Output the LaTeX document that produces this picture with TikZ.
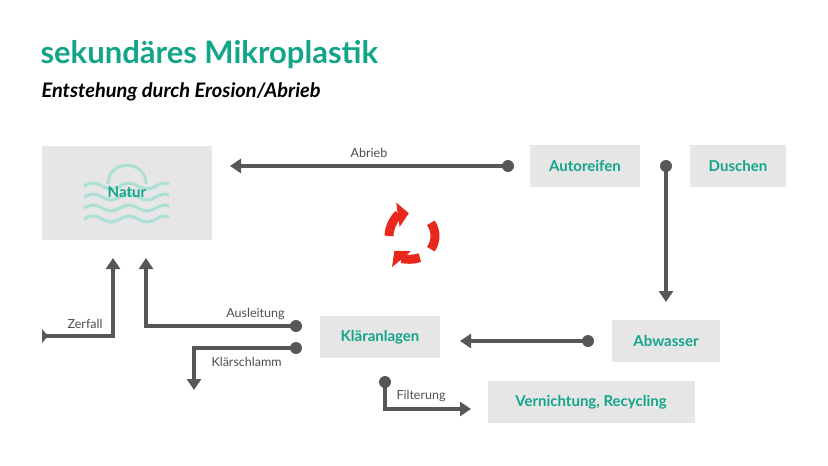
\documentclass[tikz,border=0pt]{standalone}
\usepackage{fontspec}
\setmainfont{Lato}
\usetikzlibrary{arrows.meta, positioning}
\definecolor{teal}{HTML}{12A58A}
\definecolor{boxgray}{HTML}{E6E6E6}
\definecolor{linegray}{HTML}{575757}
\definecolor{cyclered}{HTML}{E8281C}
\tikzset{
  box/.style={fill=boxgray, text=teal, font=\bfseries\fontsize{15}{17}\selectfont, inner sep=0pt},
  flow/.style={draw=linegray, line width=3.5pt, -{Triangle[length=11pt,width=14pt]}},
  dotstart/.style={fill=linegray, circle, inner sep=0pt, minimum size=12pt},
  lbl/.style={font=\fontsize{12.5}{14}\selectfont, text=linegray!90!black}
}
\begin{document}
\begin{tikzpicture}[x=1pt,y=-1pt]
   \useasboundingbox (0,0) rectangle (828,466);
   % titles
   \node[anchor=west, text=teal, font=\bfseries\fontsize{31}{35}\selectfont] (title) at (37,55) {sekundäres Mikroplastik};
   \node[anchor=west, font=\bfseries\itshape\fontsize{20}{23}\selectfont] (sub) at (38,92) {Entstehung durch Erosion/Abrieb};
   % boxes
   \node[box, minimum width=170pt, minimum height=94pt] (natur) at (127,193) {};
   \begin{scope}[draw=teal!35, line width=3pt]
     \draw (108,184) .. controls (108,159) and (146,159) .. (146,184);
     \foreach \y in {186,197,208,219}
       \draw (84,\y) sin (93,\y-3) cos (102,\y) sin (111,\y+3) cos (120,\y) sin (129,\y-3) cos (138,\y) sin (147,\y+3) cos (156,\y) sin (165,\y-3) cos (169,\y-2);
   \end{scope}
   \node[text=teal, font=\bfseries\fontsize{15}{17}\selectfont] (naturlbl) at (127,192) {Natur};
   \node[box, minimum width=110pt, minimum height=42pt] (autoreifen) at (585,166) {Autoreifen};
   \node[box, minimum width=96pt, minimum height=42pt] (duschen) at (738,166) {Duschen};
   \node[box, minimum width=108pt, minimum height=42pt] (abwasser) at (666,341) {Abwasser};
   \node[box, minimum width=120pt, minimum height=42pt] (klaer) at (380,337) {Kläranlagen};
   \node[box, minimum width=207pt, minimum height=42pt] (vernichtung) at (591,402) {Vernichtung, Recycling};
   % connector ends
   \node[dotstart] (d1) at (508,166) {};
   \node[dotstart] (d2) at (666,166) {};
   \node[dotstart] (d3) at (588,341) {};
   \node[dotstart] (d4) at (296,326) {};
   \node[dotstart] (d5) at (296,348) {};
   \node[dotstart] (d6) at (385,382) {};
   \coordinate (abriebend) at (230,166);
   \coordinate (duschend) at (666,302);
   \coordinate (abwend) at (460,341);
   \coordinate (auslend) at (146,258);
   \coordinate (zerfallstart) at (44,336);
   \coordinate (zerfallend) at (113,258);
   \coordinate (schlammend) at (194,390);
   \coordinate (filterend) at (471,409);
   % connectors
   \draw[flow] (d1.center) -- node[lbl, above=3pt] {Abrieb} (abriebend);
   \draw[flow] (d2.center) -- (duschend);
   \draw[flow] (d3.center) -- (abwend);
   \draw[flow] (d4.center) -- node[lbl, pos=0.27, above=1pt] {Ausleitung} (146,326) -- (auslend);
   \draw[flow] (zerfallstart) -- (113,336) -- (zerfallend);
   \fill[linegray] (42,329) -- (48,336) -- (42,343) -- cycle;
   \node[lbl, anchor=east] (zerfall) at (106,324) {Zerfall};
   \draw[flow] (d5.center) -- (194,348) -- (schlammend);
   \node[lbl, anchor=west] (schlamm) at (208,362) {Klärschlamm};
   \draw[flow] (d6.center) -- (385,409) -- (filterend);
   \node[lbl, anchor=west] (filter) at (393,396) {Filterung};
   % cycle icon
   \begin{scope}[shift={(412,236)}, cyclered, line width=9pt]
     \draw[-{Triangle[length=11pt,width=24pt]}] (180:23) arc[start angle=180, end angle=262, radius=23];
     \draw (325:23) arc[start angle=325, end angle=395, radius=23];
     \draw[-{Triangle[length=11pt,width=24pt]}] (70:23) arc[start angle=70, end angle=140, radius=23];
   \end{scope}
\end{tikzpicture}
\end{document}
